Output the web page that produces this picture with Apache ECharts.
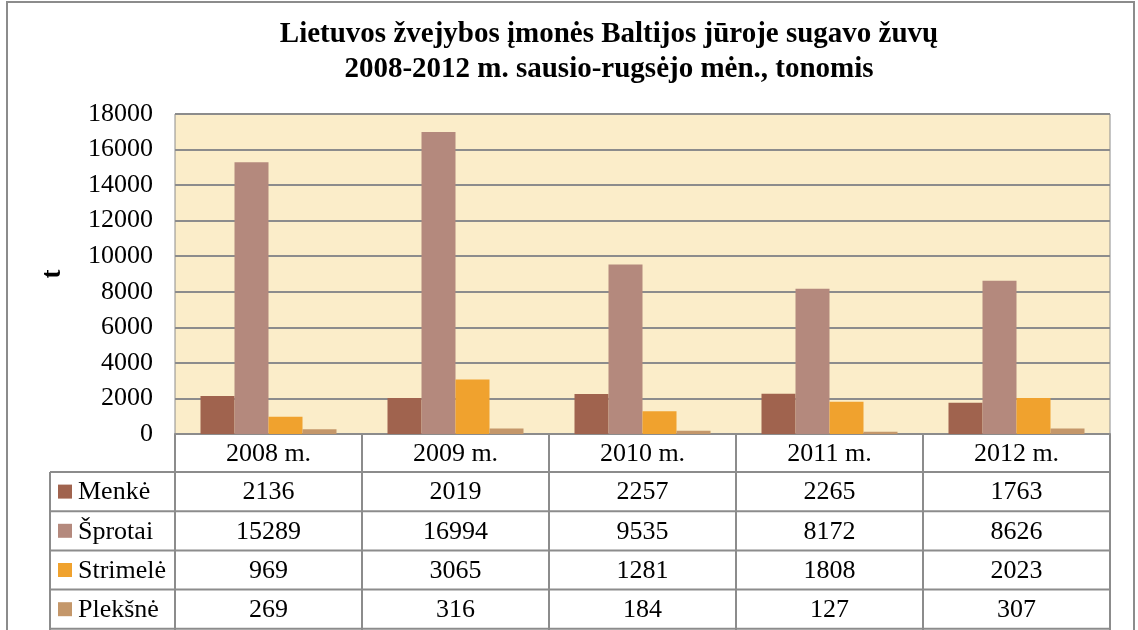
<!DOCTYPE html>
<html>
<head>
<meta charset="utf-8">
<script src="https://cdn.jsdelivr.net/npm/echarts@6/dist/echarts.min.js"></script>
<style>
  html, body { margin: 0; padding: 0; background: #fff; }
  #chart { width: 1138px; height: 630px; }
</style>
</head>
<body>
<div id="chart"></div>
<script>
const years = ["2008 m.", "2009 m.", "2010 m.", "2011 m.", "2012 m."];
const menke = [2136, 2019, 2257, 2265, 1763];
const sprotai = [15289, 16994, 9535, 8172, 8626];
const strimele = [969, 3065, 1281, 1808, 2023];
const plekšne = [269, 316, 184, 127, 307];
const yTicks = [0, 2000, 4000, 6000, 8000, 10000, 12000, 14000, 16000, 18000];
const titleText = "Lietuvos žvejybos įmonės Baltijos jūroje sugavo žuvų\n2008-2012 m. sausio-rugsėjo mėn., tonomis";

const series = [
  { name: "Menkė", data: menke, color: "#A0634E" },
  { name: "Šprotai", data: sprotai, color: "#B4897D" },
  { name: "Strimelė", data: strimele, color: "#F0A22E" },
  { name: "Plekšnė", data: plekšne, color: "#C4976A" },
];

const font = "'Liberation Serif', 'Times New Roman', serif";
const lineColor = "#8c8c8c";
const fs = 26;

const chart = echarts.init(document.getElementById("chart"));

chart.setOption({
  animation: false,
  textStyle: { fontFamily: font },
  grid: {
    left: 175, right: 28, top: 114, bottom: 196,
    show: true, backgroundColor: "#FBEDC9", borderColor: lineColor, borderWidth: 1,
  },
  xAxis: {
    type: "category",
    data: years,
    axisLine: { lineStyle: { color: lineColor, width: 2 } },
    axisTick: { show: false },
    axisLabel: { color: "#000", fontSize: fs, fontFamily: font, margin: 7 },
  },
  yAxis: {
    type: "value",
    min: yTicks[0],
    max: yTicks[yTicks.length - 1],
    interval: 2000,
    name: "t",
    nameLocation: "middle",
    nameGap: 108,
    nameTextStyle: { fontSize: 27, fontWeight: "bold", color: "#000", fontFamily: font },
    axisLine: { show: false },
    axisTick: { show: false },
    axisLabel: { color: "#000", fontSize: fs, fontFamily: font, margin: 22, formatter: (v) => String(v) },
    splitLine: { lineStyle: { color: lineColor, width: 2 } },
  },
  series: series.map((s) => ({
    name: s.name,
    type: "bar",
    data: s.data,
    barWidth: 34,
    barGap: "0%",
    itemStyle: { color: s.color },
  })),
});

// data table below the plot, built from the axis positions
const gridBottom = 434, gridLeft = 175, gridRight = 1110;
const rowH = 39.2;
const tableLeft = 50;
const headerBottom = 472;
const g = [];
const ls = { stroke: lineColor, lineWidth: 2 };

// outer chart border
g.push({ type: "rect", shape: { x: 7, y: 2, width: 1127, height: 640 },
  style: { fill: null, stroke: "#8c8c8c", lineWidth: 2 }, silent: true });

// title (centred a bit right of the page middle, like the original)
g.push({ type: "text", x: 609, y: 17, style: {
  text: titleText, font: "bold 29px " + font, fill: "#000", align: "center",
  verticalAlign: "top", lineHeight: 35 } });

// header row borders
const catW = (gridRight - gridLeft) / years.length;
for (let i = 0; i <= years.length; i++) {
  const x = gridLeft + i * catW;
  g.push({ type: "line", shape: { x1: x, y1: gridBottom, x2: x, y2: 640 }, style: ls });
}
g.push({ type: "line", shape: { x1: tableLeft, y1: headerBottom, x2: gridRight, y2: headerBottom }, style: ls });
g.push({ type: "line", shape: { x1: tableLeft, y1: headerBottom, x2: tableLeft, y2: 640 }, style: ls });

series.forEach((s, r) => {
  const yTop = headerBottom + r * rowH;
  const yMid = yTop + rowH / 2;
  g.push({ type: "line", shape: { x1: tableLeft, y1: yTop + rowH, x2: gridRight, y2: yTop + rowH }, style: ls });
  g.push({ type: "rect", shape: { x: 58, y: yMid - 7, width: 14, height: 14 }, style: { fill: s.color } });
  g.push({ type: "text", x: 78, y: yMid + 1, style: {
    text: s.name, font: fs + "px " + font, fill: "#000", verticalAlign: "middle", align: "left" } });
  s.data.forEach((v, c) => {
    const px = chart.convertToPixel({ xAxisIndex: 0 }, c);
    g.push({ type: "text", x: px, y: yMid + 1, style: {
      text: String(v), font: fs + "px " + font, fill: "#000", verticalAlign: "middle", align: "center" } });
  });
});

chart.setOption({ graphic: g });
</script>
</body>
</html>
